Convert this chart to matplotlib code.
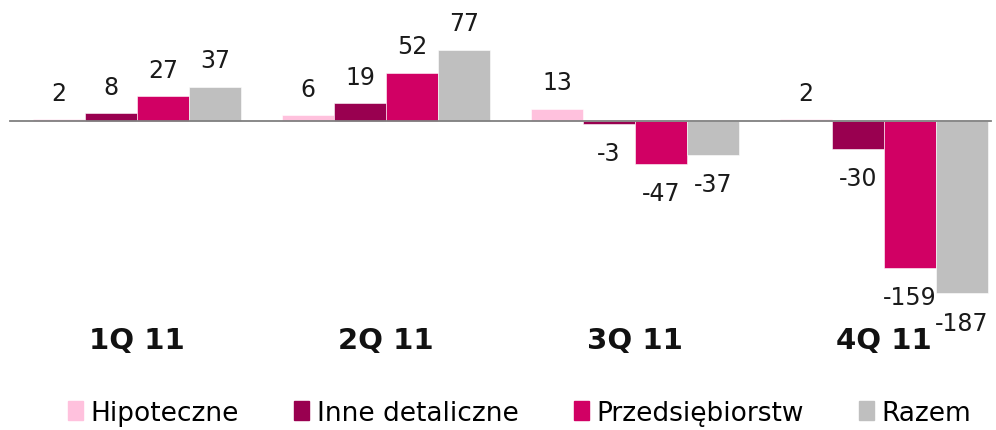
import matplotlib
matplotlib.use("Agg")
from matplotlib import pyplot as plt
import numpy as np

plt.rcParams['font.family'] = ['DejaVu Sans']

quarters = ['1Q 11', '2Q 11', '3Q 11', '4Q 11']
series = ['Hipoteczne', 'Inne detaliczne', 'Przedsiębiorstw', 'Razem']
hipoteczne = [2, 6, 13, 2]
inne = [8, 19, -3, -30]
przeds = [27, 52, -47, -159]
razem = [37, 77, -37, -187]
colors = ['#FFC1DD', '#990050', '#D10064', '#BFBFBF']

fig = plt.figure(figsize=(9.96, 4.31), dpi=100)
ax = fig.add_axes([0, 0, 1, 1])

x = np.arange(len(quarters))
w = 0.209
for i, (vals, c) in enumerate(zip([hipoteczne, inne, przeds, razem], colors)):
    pos = x + (i - 1.5) * w
    ax.bar(pos, vals, w, color=c, edgecolor='white', linewidth=0.4)
    for p, v in zip(pos, vals):
        off = 19 if v >= 0 else -21
        ax.annotate(str(v), (p, v), xytext=(0, off), textcoords='offset points',
                    ha='center', va='center', fontsize=17, color='#1a1a1a')

# zero line
ax.plot([-0.51, 3.43], [0, 0], color='#808080', lw=1.3)

for xi, q in zip(x, quarters):
    ax.text(xi, -237, q, ha='center', va='center', fontsize=21, fontweight='bold', color='#111111')

ax.set_xlim(-0.55, 3.45)
ax.set_ylim(-335, 132)
ax.axis('off')

handles = [plt.Rectangle((0, 0), 1, 1, color=c) for c in colors]
fig.legend(handles, series, loc='center', bbox_to_anchor=(0.522, 0.04), ncol=4,
           frameon=False, fontsize=19, handlelength=0.55, handleheight=0.75,
           handletextpad=0.3, columnspacing=2.1)

fig.savefig('out.png', dpi=100)
